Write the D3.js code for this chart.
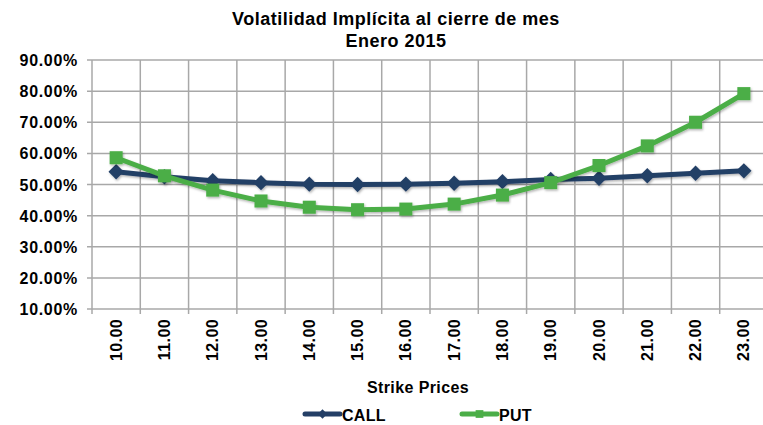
<!DOCTYPE html>
<html><head><meta charset="utf-8">
<script src="https://cdn.jsdelivr.net/npm/d3@7"></script>
<style>
html,body{margin:0;padding:0;background:#fff;}
svg{display:block;font-family:"Liberation Sans",Arial,sans-serif;font-weight:bold;}
</style></head>
<body>
<svg id="chart" width="763" height="425"></svg>
<script>
const titleLines = ["Volatilidad Implícita al cierre de mes", "Enero 2015"];
const strikes = ["10.00","11.00","12.00","13.00","14.00","15.00","16.00","17.00","18.00","19.00","20.00","21.00","22.00","23.00"];
const callValues = [0.541,0.525,0.512,0.506,0.501,0.500,0.501,0.504,0.509,0.516,0.520,0.528,0.536,0.544];
const putValues  = [0.586,0.528,0.482,0.447,0.427,0.419,0.421,0.437,0.466,0.506,0.561,0.624,0.700,0.792];
const yTicks = [0.1,0.2,0.3,0.4,0.5,0.6,0.7,0.8,0.9];
const xTitle = "Strike Prices";
const seriesNames = ["CALL","PUT"];
const colors = ["#243F66","#4BAE47"];

const svg = d3.select("#chart");
const L = 92, R = 768, T = 60, B = 309;

const x = d3.scaleBand().domain(strikes).range([L, R]);
const y = d3.scaleLinear().domain([0.1, 0.9]).range([B, T]);

// title
svg.append("text").attr("x", 396).attr("y", 25).attr("text-anchor","middle")
  .attr("font-size", 18).attr("letter-spacing", 0.5).attr("fill","#000").text(titleLines[0]);
svg.append("text").attr("x", 396).attr("y", 47).attr("text-anchor","middle")
  .attr("font-size", 18).attr("letter-spacing", 0.5).attr("fill","#000").text(titleLines[1]);

const grid = svg.append("g");
grid.selectAll("line.h").data(yTicks).join("line")
  .attr("x1", L - 5).attr("x2", R)
  .attr("y1", d => y(d)).attr("y2", d => y(d))
  .attr("stroke", "#A8A8A8").attr("stroke-width", 1.5);
const edges = strikes.map(s => x(s)).concat([R]);
grid.selectAll("line.v").data(edges).join("line")
  .attr("x1", d => d).attr("x2", d => d)
  .attr("y1", T).attr("y2", B + 5)
  .attr("stroke", "#A8A8A8").attr("stroke-width", 1.5);

// y axis labels
const yAxis = d3.axisLeft(y).tickValues(yTicks).tickSize(0).tickPadding(0)
  .tickFormat(d => (d*100).toFixed(2) + "%");
const ga = svg.append("g").attr("transform", `translate(${L - 14},0)`).call(yAxis);
ga.select(".domain").remove();
ga.selectAll("text").attr("font-size", 16).attr("letter-spacing", 0.7)
  .attr("font-family", "Liberation Sans, Arial, sans-serif")
  .attr("font-weight","bold").attr("fill","#000").attr("dy","0.35em");

// x axis labels rotated
const xAxis = d3.axisBottom(x).tickSize(0).tickPadding(0);
const gx = svg.append("g").attr("transform", `translate(0,${B})`).call(xAxis);
gx.select(".domain").remove();
gx.selectAll("text").attr("font-size", 16).attr("letter-spacing", 0.4)
  .attr("font-family", "Liberation Sans, Arial, sans-serif")
  .attr("font-weight","bold").attr("fill","#000")
  .attr("transform", "rotate(-90)").attr("text-anchor","end")
  .attr("x", -10).attr("y", 0).attr("dy", "0.35em");

// axis title
svg.append("text").attr("x", 418).attr("y", 393).attr("text-anchor","middle")
  .attr("font-size", 16).attr("letter-spacing", 0.4).attr("fill","#000").text(xTitle);

// lines
const line = d3.line().x((d,i) => x(strikes[i]) + x.bandwidth()/2).y(d => y(d));
const defs = svg.append("defs");
const f = defs.append("filter").attr("id","sh").attr("x","-50%").attr("y","-50%").attr("width","200%").attr("height","200%");
f.append("feDropShadow").attr("dx",1).attr("dy",1.5).attr("stdDeviation",1.2).attr("flood-color","#000").attr("flood-opacity",0.3);

const seriesData = [callValues, putValues];
seriesData.forEach((vals, si) => {
  const g = svg.append("g").attr("filter","url(#sh)");
  g.append("path").datum(vals).attr("d", line).attr("fill","none")
    .attr("stroke", colors[si]).attr("stroke-width", 5).attr("stroke-linejoin","round");
  const sym = si === 0 ? d3.symbolDiamond2 : d3.symbolSquare;
  const size = si === 0 ? 150 : 170;
  g.selectAll("path.m").data(vals).join("path")
    .attr("transform", (d,i) => `translate(${x(strikes[i]) + x.bandwidth()/2},${y(d)})`)
    .attr("d", d3.symbol().type(sym).size(size)).attr("fill", colors[si]);
});

// legend
const legendX = [305, 462];
seriesNames.forEach((name, si) => {
  const lg = svg.append("g").attr("transform", `translate(${legendX[si]},414)`);
  lg.append("line").attr("x1",0).attr("x2",35).attr("y1",0).attr("y2",0)
    .attr("stroke", colors[si]).attr("stroke-width",5).attr("stroke-linecap","round");
  const sym = si === 0 ? d3.symbolDiamond2 : d3.symbolSquare;
  lg.append("path").attr("transform","translate(17.5,0)")
    .attr("d", d3.symbol().type(sym).size(si===0?55:60)).attr("fill", colors[si]);
  lg.append("text").attr("x", 37).attr("y", 7).attr("font-size", 16).attr("letter-spacing", 0.3)
    .attr("fill","#000").text(name);
});
</script>
</body></html>
